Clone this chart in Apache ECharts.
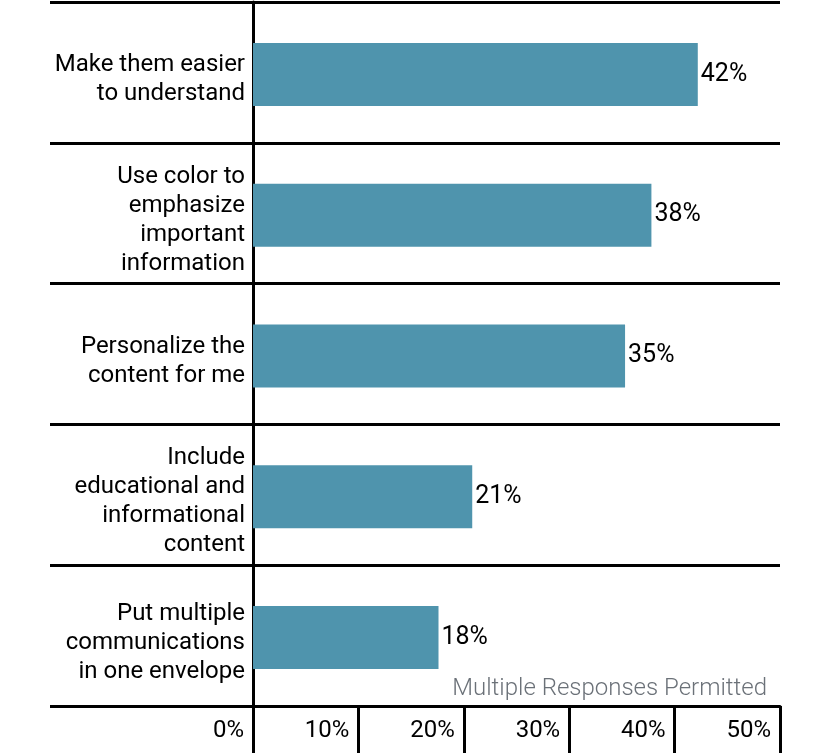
<!DOCTYPE html>
<html>
<head>
<meta charset="utf-8">
<script src="https://cdn.jsdelivr.net/npm/echarts@6/dist/echarts.min.js"></script>
<style>
html,body{margin:0;padding:0;background:#fff;}
#chart{width:830px;height:753px;}
</style>
</head>
<body>
<div id="chart"></div>
<script>
const categories = [
  "Make them easier\nto understand",
  "Use color to\nemphasize\nimportant\ninformation",
  "Personalize the\ncontent for me",
  "Include\neducational and\ninformational\ncontent",
  "Put multiple\ncommunications\nin one envelope"
];
const values = [42.2, 37.8, 35.3, 20.8, 17.6];
const tickLabels = ["0%", "10%", "20%", "30%", "40%", "50%"];
const note = "Multiple Responses Permitted";

const FONT = "Roboto";
const chart = echarts.init(document.getElementById('chart'), null, {renderer: 'canvas'});
chart.setOption({
  animation: false,
  backgroundColor: '#fff',
  grid: [
    {left: 253, right: 50, top: 2, bottom: 47, containLabel: false},
    {left: 253, right: 50, top: 4, bottom: 45, containLabel: false},
    {left: 253, right: 50, top: 9, bottom: 40, containLabel: false}
  ],
  xAxis: [{
    gridIndex: 0, type: 'value', min: 0, max: 50, interval: 10,
    axisLine: {show: true, lineStyle: {color: '#000', width: 3}},
    axisTick: {show: true, inside: false, length: 47, lineStyle: {color: '#000', width: 3}},
    splitLine: {show: false},
    axisLabel: {
      show: true, showMinLabel: true, showMaxLabel: true,
      formatter: function (v) { return tickLabels[Math.round(v / 10)]; },
      align: 'right', verticalAlign: 'middle', margin: 25, padding: [0, 9, 0, 0],
      color: '#000', fontFamily: FONT, fontSize: 24
    }
  }, {
    gridIndex: 1, type: 'value', min: 0, max: 50, interval: 10, show: false
  }, {
    gridIndex: 2, type: 'value', min: 0, max: 50, interval: 10, show: false
  }],
  yAxis: [{
    gridIndex: 0, type: 'category', inverse: true, data: categories,
    axisLine: {show: true, lineStyle: {color: '#000', width: 3}},
    axisTick: {show: true, inside: false, length: 203, lineStyle: {color: '#000', width: 3}},
    splitLine: {show: true, lineStyle: {color: '#000', width: 3}},
    axisLabel: {show: false}
  }, {
    gridIndex: 1, type: 'category', inverse: true, data: categories, show: false
  }, {
    gridIndex: 2, type: 'category', inverse: true, data: categories,
    axisLine: {show: false}, axisTick: {show: false}, splitLine: {show: false},
    axisLabel: {
      margin: 8, align: 'right', color: '#000', fontFamily: FONT, fontSize: 24, lineHeight: 29
    }
  }],
  series: [{
    type: 'bar', xAxisIndex: 1, yAxisIndex: 1, data: values, barWidth: 63,
    itemStyle: {color: '#4f94ad'},
    label: {
      show: true, position: 'right', distance: 3,
      formatter: function (p) { return Math.round(p.value) + '%'; },
      color: '#000', fontFamily: FONT, fontSize: 25, padding: [0, 0, 4, 0]
    }
  }],
  graphic: [{
    type: 'text', right: 63, top: 677,
    style: {text: note, fill: '#6b7178', font: '300 24px ' + FONT}
  }]
});
</script>
</body>
</html>
